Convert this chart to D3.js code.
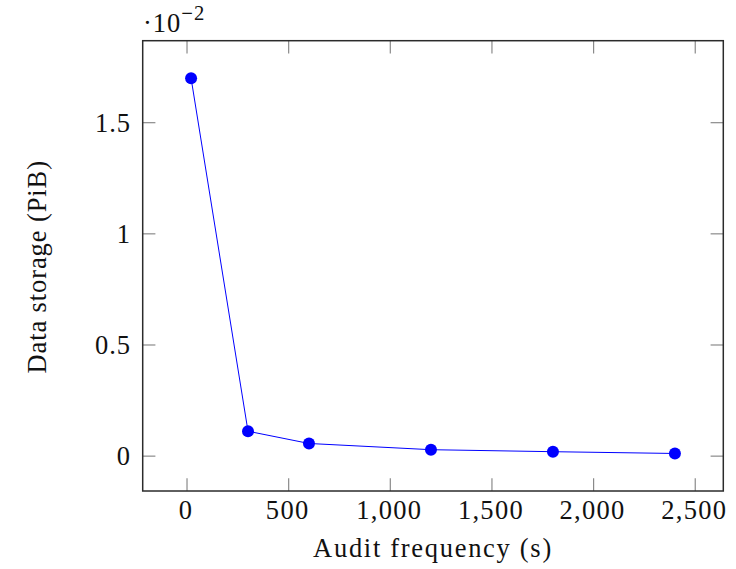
<!DOCTYPE html>
<html>
<head>
<meta charset="utf-8">
<script src="https://cdn.jsdelivr.net/npm/d3@7"></script>
<style>
  body { margin: 0; background: #fff; }
  svg text { font-family: "Liberation Serif", "DejaVu Serif", serif; fill: #111; }
</style>
</head>
<body>
<svg id="chart" width="736" height="569"></svg>
<script>
// audit frequency (s) vs data storage (PiB, shown in units of 10^-2)
var freq = [20, 300, 600, 1200, 1800, 2400]
var storage = [1.70, 0.112, 0.057, 0.029, 0.020, 0.012]
var xTicks = [0, 500, 1000, 1500, 2000, 2500]
var yTicks = [0, 0.5, 1, 1.5]

var W = 736, H = 569
var box = {l: 142.7, r: 723.3, t: 40.7, b: 491}
var fs = 26.5

var svg = d3.select("#chart")

// pgfplots style enlargement of 10% each side
function enlarge(ext) {
  var d = (ext[1] - ext[0]) * 0.1
  return [ext[0] - d, ext[1] + d]
}
var x = d3.scaleLinear().domain(enlarge(d3.extent(freq))).range([box.l, box.r])
var y = d3.scaleLinear().domain(enlarge(d3.extent(storage))).range([box.b, box.t])

var fmt = d3.format(",")

// ticks, inward, mirrored
var tl = 12.7
var ticks = svg.append("g").attr("stroke", "#8a8a8a").attr("stroke-width", 1.2)
xTicks.forEach(function (v) {
  ticks.append("line").attr("x1", x(v)).attr("x2", x(v)).attr("y1", box.b).attr("y2", box.b - tl)
  ticks.append("line").attr("x1", x(v)).attr("x2", x(v)).attr("y1", box.t).attr("y2", box.t + tl)
})
yTicks.forEach(function (v) {
  ticks.append("line").attr("x1", box.l).attr("x2", box.l + tl).attr("y1", y(v)).attr("y2", y(v))
  ticks.append("line").attr("x1", box.r).attr("x2", box.r - tl).attr("y1", y(v)).attr("y2", y(v))
})

// frame
svg.append("rect")
  .attr("x", box.l).attr("y", box.t)
  .attr("width", box.r - box.l).attr("height", box.b - box.t)
  .attr("fill", "none").attr("stroke", "#2b2b2b").attr("stroke-width", 1.5)

// tick labels
svg.append("g").selectAll("text")
  .data(xTicks).join("text")
  .attr("x", d => x(d) - 1).attr("y", 518.5)
  .attr("text-anchor", "middle").attr("font-size", fs)
  .attr("letter-spacing", 1.3)
  .text(d => fmt(d))
svg.append("g").selectAll("text")
  .data(yTicks).join("text")
  .attr("x", 131).attr("y", d => y(d) + 9)
  .attr("text-anchor", "end").attr("font-size", fs)
  .attr("letter-spacing", 1)
  .text(d => d)

// exponent
var ex = svg.append("text").attr("x", 143).attr("y", 31.5).attr("font-size", fs)
  .attr("letter-spacing", 1)
ex.append("tspan").text("\u00b710")
ex.append("tspan").attr("dy", -12).attr("font-size", fs * 0.78).text("\u22122")

// axis labels
svg.append("text")
  .attr("x", (box.l + box.r) / 2).attr("y", 557)
  .attr("text-anchor", "middle").attr("font-size", fs)
  .attr("letter-spacing", 1.7)
  .text("Audit frequency (s)")
svg.append("text")
  .attr("transform", "translate(46," + ((box.t + box.b) / 2 + 1) + ") rotate(-90)")
  .attr("text-anchor", "middle").attr("font-size", fs)
  .attr("letter-spacing", 0.9)
  .text("Data storage (PiB)")

// series
var line = d3.line().x((d, i) => x(freq[i])).y(d => y(d))
svg.append("path")
  .datum(storage)
  .attr("d", line)
  .attr("fill", "none").attr("stroke", "#0000ff").attr("stroke-width", 1)
svg.append("g").selectAll("circle")
  .data(storage).join("circle")
  .attr("cx", (d, i) => x(freq[i])).attr("cy", d => y(d))
  .attr("r", 6).attr("fill", "#0000ff")
</script>
</body>
</html>
